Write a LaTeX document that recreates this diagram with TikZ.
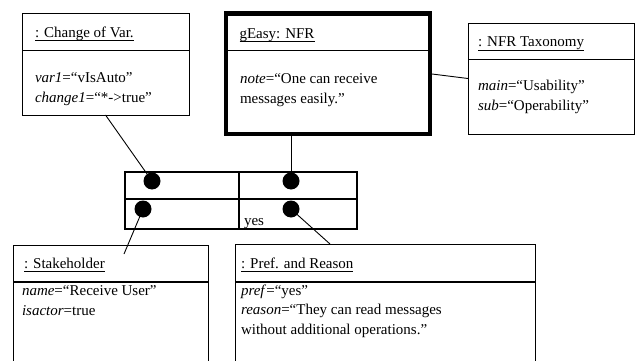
\documentclass[tikz,border=0pt]{standalone}
\usepackage{fontspec}
\setmainfont{Liberation Serif}
\usetikzlibrary{calc}
% underline set close to the baseline, through the descenders
\newcommand{\uln}[1]{\setbox0\hbox{#1}\rlap{\rule[-3.5pt]{\wd0}{0.8pt}}\box0}
\begin{document}
\begin{tikzpicture}[x=1pt,y=-1pt,
  font=\fontsize{15}{20}\selectfont,
  objbox/.style={draw, line width=0.9pt, anchor=north west, inner sep=0pt, outer sep=0pt},
  thickbox/.style={objbox, line width=4.5pt},
  txt/.style={anchor=base west, inner sep=0pt, outer sep=0pt},
  hook/.style={circle, fill=black, inner sep=0pt, outer sep=0pt, minimum size=17pt},
  conn/.style={line width=0.9pt},
  sep/.style={line width=1pt},
  lowsep/.style={line width=1.6pt},
  grid/.style={line width=2pt}]
\useasboundingbox (0,0) rectangle (642,361);
\clip (0,0) rectangle (642,361);

% ---- object boxes ----
\node[objbox, minimum width=167pt, minimum height=102pt] (cv) at (22,13) {};
\draw[sep] ($(cv.north west)+(0,38)$) -- ($(cv.north east)+(0,38)$);
\node[txt] (cv-t) at (35,37.5) {\uln{: Change of Var.}};
\node[txt] (cv-a1) at (35,82.5) {\textit{var1}=“vIsAuto”};
\node[txt] (cv-a2) at (35,102.5) {\textit{change1}=“*-{}>true”};

\node[thickbox, minimum width=204pt, minimum height=120.5pt] (gez) at (226,13.5) {};
\draw[sep] ($(gez.north west)+(0,37.5)$) -- ($(gez.north east)+(0,37.5)$);
\node[txt] (gez-t) at (239.5,38) {\uln{gEasy: NFR}};
\node[txt] (gez-a1) at (240,83) {\textit{note}=“One can receive};
\node[txt] (gez-a2) at (240,103) {messages easily.”};

\node[objbox, minimum width=166pt, minimum height=111pt] (tax) at (468,23) {};
\draw[sep] ($(tax.north west)+(0,37)$) -- ($(tax.north east)+(0,37)$);
\node[txt] (tax-t) at (478,47) {\uln{: NFR Taxonomy}};
\node[txt] (tax-a1) at (478,90.5) {\textit{main}=“Usability”};
\node[txt] (tax-a2) at (478,110.5) {\textit{sub}=“Operability”};

% the two lower boxes run on past the bottom edge
\node[objbox, minimum width=195pt, minimum height=140pt] (stk) at (13,245) {};
\draw[lowsep] ($(stk.north west)+(0,37)$) -- ($(stk.north east)+(0,37)$);
\node[txt] (stk-t) at (24,268) {\uln{: Stakeholder}};
\node[txt] (stk-a1) at (22,295) {\textit{name}=“Receive User”};
\node[txt] (stk-a2) at (22,315) {\textit{isactor}=true};

\node[objbox, minimum width=300pt, minimum height=140pt] (prf) at (235,244) {};
\draw[lowsep] ($(prf.north west)+(0,38)$) -- ($(prf.north east)+(0,38)$);
\node[txt] (prf-t) at (241,268) {\uln{: Pref. and Reason}};
\node[txt] (prf-a1) at (241,295) {\textit{pref}=“yes”};
\node[txt] (prf-a2) at (241,314.5) {\textit{reason}=“They can read messages};
\node[txt] (prf-a3) at (241,334) {without additional operations.”};

% ---- link table ----
\node[draw, line width=2pt, anchor=north west, inner sep=0pt, outer sep=0pt,
      minimum width=232pt, minimum height=57pt] (tbl) at (125,172) {};
\coordinate (colsep) at (239,172);
\coordinate (rowsep) at (125,199);
\draw[grid] (colsep) -- (colsep |- tbl.south);
\draw[grid] (rowsep) -- (rowsep -| tbl.east);
\node[txt] (yes) at (244,225) {yes};

\node[hook] (hTL) at (152,181) {};
\node[hook] (hTR) at (291,181) {};
\node[hook] (hBL) at (143,209) {};
\node[hook] (hBR) at (291,209) {};

% ---- connectors ----
\coordinate (stkend) at (124,254);
\coordinate (prfend) at (330,244);
\draw[conn] (cv.south) -- (hTL.center);
\draw[conn] (gez.south -| hTR) -- (hTR.center);
\draw[conn] (gez.east) -- (tax.west);
\draw[conn] (hBL.center) -- (stkend);
\draw[conn] (hBR.center) -- (prfend);
\end{tikzpicture}
\end{document}
